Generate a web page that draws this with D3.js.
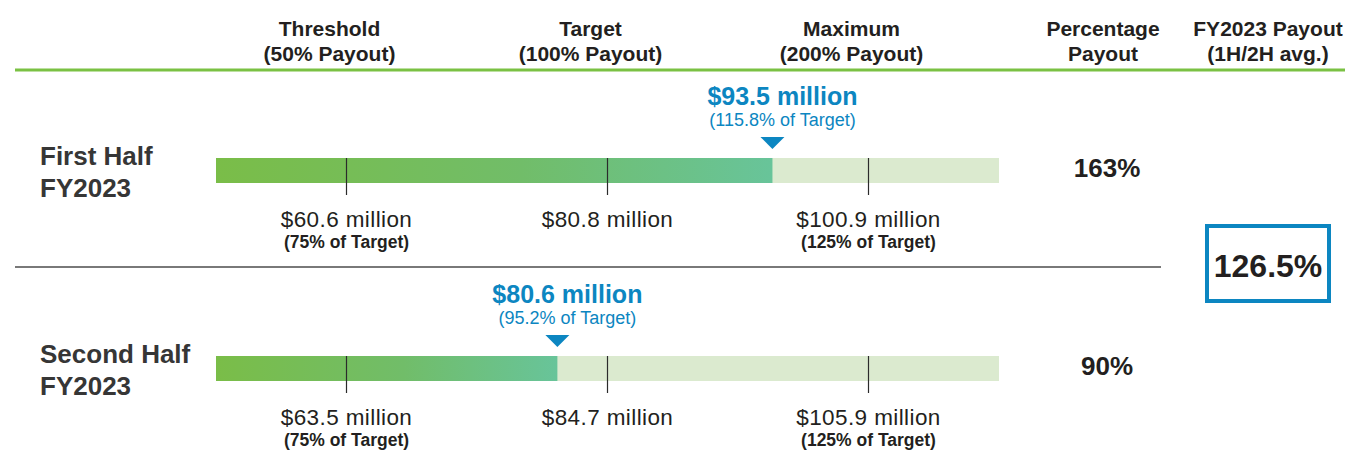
<!DOCTYPE html>
<html>
<head>
<meta charset="utf-8">
<script src="https://cdn.jsdelivr.net/npm/d3@7"></script>
<style>
  html, body { margin: 0; padding: 0; background: #ffffff; }
  svg { display: block; font-family: "Liberation Sans", Arial, Helvetica, sans-serif; }
</style>
</head>
<body>
<svg id="chart" width="1345" height="463"></svg>
<script>
// Performance levels (as % of target) and their payouts
const levelNames = ["Threshold", "Target", "Maximum"];
const levelPayouts = ["(50% Payout)", "(100% Payout)", "(200% Payout)"];
const levelPctOfTarget = [75, 100, 125];
const levelPctNotes = ["(75% of Target)", "", "(125% of Target)"];

// Periods
const periodLines = [["First Half", "FY2023"], ["Second Half", "FY2023"]];
const levelAmounts = [[60.6, 80.8, 100.9], [63.5, 84.7, 105.9]]; // $ million
const actualAmounts = [93.5, 80.6];                             // $ million
const actualPctOfTarget = [115.8, 95.2];
const payoutPct = [163, 90];
const averagePayout = 126.5;

// Visible extent of each bar, in % of target
const barDomain = [62.5, 137.5];

const blue = "#0c86c1";
const ink = "#231f20";

const svg = d3.select("#chart");

const x = d3.scaleLinear().domain(barDomain).range([216, 999]);
const yRow = d3.scalePoint().domain(d3.range(periodLines.length)).range([158, 356]);
const barH = 25;

// Fill gradient across the achieved portion of each bar
const defs = svg.append("defs");
const grad = defs.append("linearGradient").attr("id", "achieved");
grad.append("stop").attr("offset", "0%").attr("stop-color", "#7abd48");
grad.append("stop").attr("offset", "55%").attr("stop-color", "#71bd69");
grad.append("stop").attr("offset", "100%").attr("stop-color", "#68c49a");

// Column headers
const headCols = levelPctOfTarget.map(p => x(p) - 17).concat([1103, 1268]);
const headLine1 = levelNames.concat(["Percentage", "FY2023 Payout"]);
const headLine2 = levelPayouts.concat(["Payout", "(1H/2H avg.)"]);
const head = svg.append("g").attr("font-weight", "bold").attr("font-size", 21)
  .attr("fill", ink).attr("text-anchor", "middle");
head.selectAll("text.h1").data(headLine1).join("text").attr("class", "h1")
  .attr("x", (d, i) => headCols[i]).attr("y", 36).text(d => d);
head.selectAll("text.h2").data(headLine2).join("text").attr("class", "h2")
  .attr("x", (d, i) => headCols[i]).attr("y", 61).text(d => d);

svg.append("line").attr("x1", 15).attr("x2", 1345).attr("y1", 70).attr("y2", 70)
  .attr("stroke", "#7ac143").attr("stroke-width", 3);

// Separator between the two periods
const sepY = (yRow(0) + yRow(1)) / 2 + 10;
svg.append("line").attr("x1", 15).attr("x2", 1161).attr("y1", sepY).attr("y2", sepY)
  .attr("stroke", "#4d4d4d").attr("stroke-width", 1.5);

const rows = svg.selectAll("g.row").data(periodLines).join("g")
  .attr("class", "row")
  .attr("transform", (d, i) => `translate(0,${yRow(i)})`);

rows.each(function(lines, i) {
  const g = d3.select(this);

  // Period label
  g.selectAll("text.period").data(lines).join("text").attr("class", "period")
    .attr("x", 40).attr("y", (d, k) => 7 + k * 32)
    .attr("font-size", 26).attr("font-weight", "bold").attr("fill", "#363636")
    .text(d => d);

  // Background bar
  g.append("rect").attr("x", x(barDomain[0])).attr("y", 0)
    .attr("width", x(barDomain[1]) - x(barDomain[0])).attr("height", barH)
    .attr("fill", "#dbeacf");

  // Achieved portion
  g.append("rect").attr("x", x(barDomain[0])).attr("y", 0)
    .attr("width", x(actualPctOfTarget[i]) - x(barDomain[0])).attr("height", barH)
    .attr("fill", "url(#achieved)");

  // Level ticks
  g.selectAll("line.tick").data(levelPctOfTarget).join("line").attr("class", "tick")
    .attr("x1", d => x(d)).attr("x2", d => x(d)).attr("y1", 0).attr("y2", 37)
    .attr("stroke", "#2b2b2b").attr("stroke-width", 1.2);

  // Level amounts
  g.selectAll("text.amt").data(levelAmounts[i]).join("text").attr("class", "amt")
    .attr("x", (d, k) => x(levelPctOfTarget[k])).attr("y", 69)
    .attr("text-anchor", "middle").attr("font-size", 22.5).attr("letter-spacing", 0.4)
    .attr("fill", ink)
    .text(d => `$${d3.format(".1f")(d)} million`);
  g.selectAll("text.note").data(levelPctNotes).join("text").attr("class", "note")
    .attr("x", (d, k) => x(levelPctOfTarget[k])).attr("y", 90)
    .attr("text-anchor", "middle").attr("font-size", 17.5).attr("font-weight", "bold")
    .attr("fill", ink)
    .text(d => d);

  // Actual result marker
  const ax = x(actualPctOfTarget[i]);
  g.append("path")
    .attr("d", d3.line()([[ax - 12, -21], [ax + 12, -21], [ax, -9]]) + "Z")
    .attr("fill", blue);
  g.append("text").attr("x", ax + 10).attr("y", -53)
    .attr("text-anchor", "middle").attr("font-size", 25).attr("font-weight", "bold")
    .attr("fill", blue)
    .text(`$${d3.format(".1f")(actualAmounts[i])} million`);
  g.append("text").attr("x", ax + 10).attr("y", -32)
    .attr("text-anchor", "middle").attr("font-size", 18)
    .attr("fill", blue)
    .text(`(${d3.format(".1f")(actualPctOfTarget[i])}% of Target)`);

  // Percentage payout
  g.append("text").attr("x", 1107).attr("y", 19)
    .attr("text-anchor", "middle").attr("font-size", 26).attr("font-weight", "bold")
    .attr("fill", ink)
    .text(`${payoutPct[i]}%`);
});

// Averaged payout box
svg.append("rect").attr("x", 1207).attr("y", 226).attr("width", 122).attr("height", 75)
  .attr("fill", "none").attr("stroke", blue).attr("stroke-width", 4);
svg.append("text").attr("x", 1268).attr("y", 277)
  .attr("text-anchor", "middle").attr("font-size", 32).attr("font-weight", "bold")
  .attr("fill", ink)
  .text(`${d3.format(".1f")(averagePayout)}%`);
</script>
</body>
</html>
